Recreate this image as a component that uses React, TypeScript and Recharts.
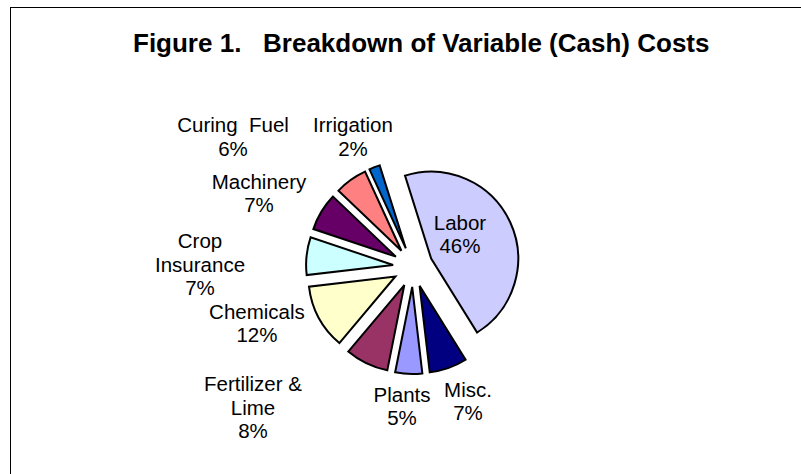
import React from 'react';
import { PieChart, Pie, Cell } from 'recharts';

const sliceNames = ['Labor', 'Misc.', 'Plants', 'Fertilizer &\nLime', 'Chemicals', 'Crop\nInsurance', 'Machinery', 'Curing  Fuel', 'Irrigation'];
const sliceShares = [46, 7, 5, 8, 12, 7, 7, 6, 2];
const sliceColors = ['#CCCCFF', '#000080', '#9999FF', '#993366', '#FFFFCC', '#CCFFFF', '#660066', '#FF8080', '#0066CC'];

const W = 801;
const H = 474;
const CX = 413;
const CY = 267;
const R = 87;
const EXPLODE = 20;
const FIRST_ANGLE = -17.5; // angle of first slice, clockwise from 12 o'clock
const FONT = '"Liberation Sans", Arial, sans-serif';
const FONT_SIZE = 20.5;
const LINE_H = 23.5;

// hand placed labels: offset from the default radial spot
const labelNudge = [
  [-10.7, -6], [9.7, 5.2], [-5.5, 2.6], [-100.6, 17], [-35.4, -8.5],
  [-76.7, 11.6], [-36.7, -2.7], [-100.4, -18.5], [-10.7, -2.2],
];

const data = sliceNames.map((name, i) => ({ name, value: sliceShares[i] }));
const total = sliceShares.reduce((a, b) => a + b, 0);

const explodedCenter = (i: number) => {
  const before = sliceShares.slice(0, i).reduce((a, b) => a + b, 0);
  const mid = ((FIRST_ANGLE + ((before + sliceShares[i] / 2) / total) * 360) * Math.PI) / 180;
  return { x: CX + EXPLODE * Math.sin(mid), y: CY - EXPLODE * Math.cos(mid) };
};

const renderLabel = (i: number) => (p: any) => {
  if (p.index !== i) return null;
  const rad = Math.PI / 180;
  const ux = Math.cos(-p.midAngle * rad);
  const uy = Math.sin(-p.midAngle * rad);
  const dist = i === 0 ? p.outerRadius * 0.5 : p.outerRadius + 30;
  const x = p.cx + dist * ux + labelNudge[i][0];
  const y = p.cy + dist * uy + labelNudge[i][1];
  const lines = [...sliceNames[i].split('\n'), `${sliceShares[i]}%`];
  const y0 = y - ((lines.length - 1) * LINE_H) / 2 + FONT_SIZE * 0.35;
  return (
    <text x={x} y={y0} textAnchor="middle" fontFamily={FONT} fontSize={FONT_SIZE} fill="#000" style={{ whiteSpace: 'pre' }}>
      {lines.map((t, k) => (
        <tspan key={k} x={x} y={y0 + k * LINE_H}>{t}</tspan>
      ))}
    </text>
  );
};

export default function App() {
  return (
    <div style={{ position: 'absolute', left: 0, top: 0, width: W, height: H, overflow: 'hidden', background: '#fff' }}>
      <div style={{ position: 'absolute', left: 10, top: 7, width: W, height: H, borderTop: '1.5px solid #000', borderLeft: '1.5px solid #000' }} />
      <div
        style={{
          position: 'absolute', left: 133, top: 28, lineHeight: '30px', whiteSpace: 'pre',
          fontFamily: FONT, fontWeight: 'bold', fontSize: 26, color: '#000',
        }}
      >
        Figure 1.   Breakdown of Variable (Cash) Costs
      </div>
      <div style={{ position: 'absolute', left: 0, top: 0 }}>
        <PieChart width={W} height={H} margin={{ top: 0, right: 0, bottom: 0, left: 0 }}>
          {sliceNames.map((_, i) => {
            const c = explodedCenter(i);
            return (
              <Pie
                key={i}
                data={data}
                dataKey="value"
                nameKey="name"
                cx={c.x}
                cy={c.y}
                outerRadius={R}
                startAngle={90 - FIRST_ANGLE}
                endAngle={90 - FIRST_ANGLE - 360}
                isAnimationActive={false}
                labelLine={false}
                label={renderLabel(i)}
              >
                {data.map((_, k) => (
                  <Cell
                    key={k}
                    fill={k === i ? sliceColors[k] : 'none'}
                    stroke={k === i ? '#000' : 'none'}
                    strokeWidth={k === i ? 2 : 0}
                  />
                ))}
              </Pie>
            );
          })}
        </PieChart>
      </div>
    </div>
  );
}
